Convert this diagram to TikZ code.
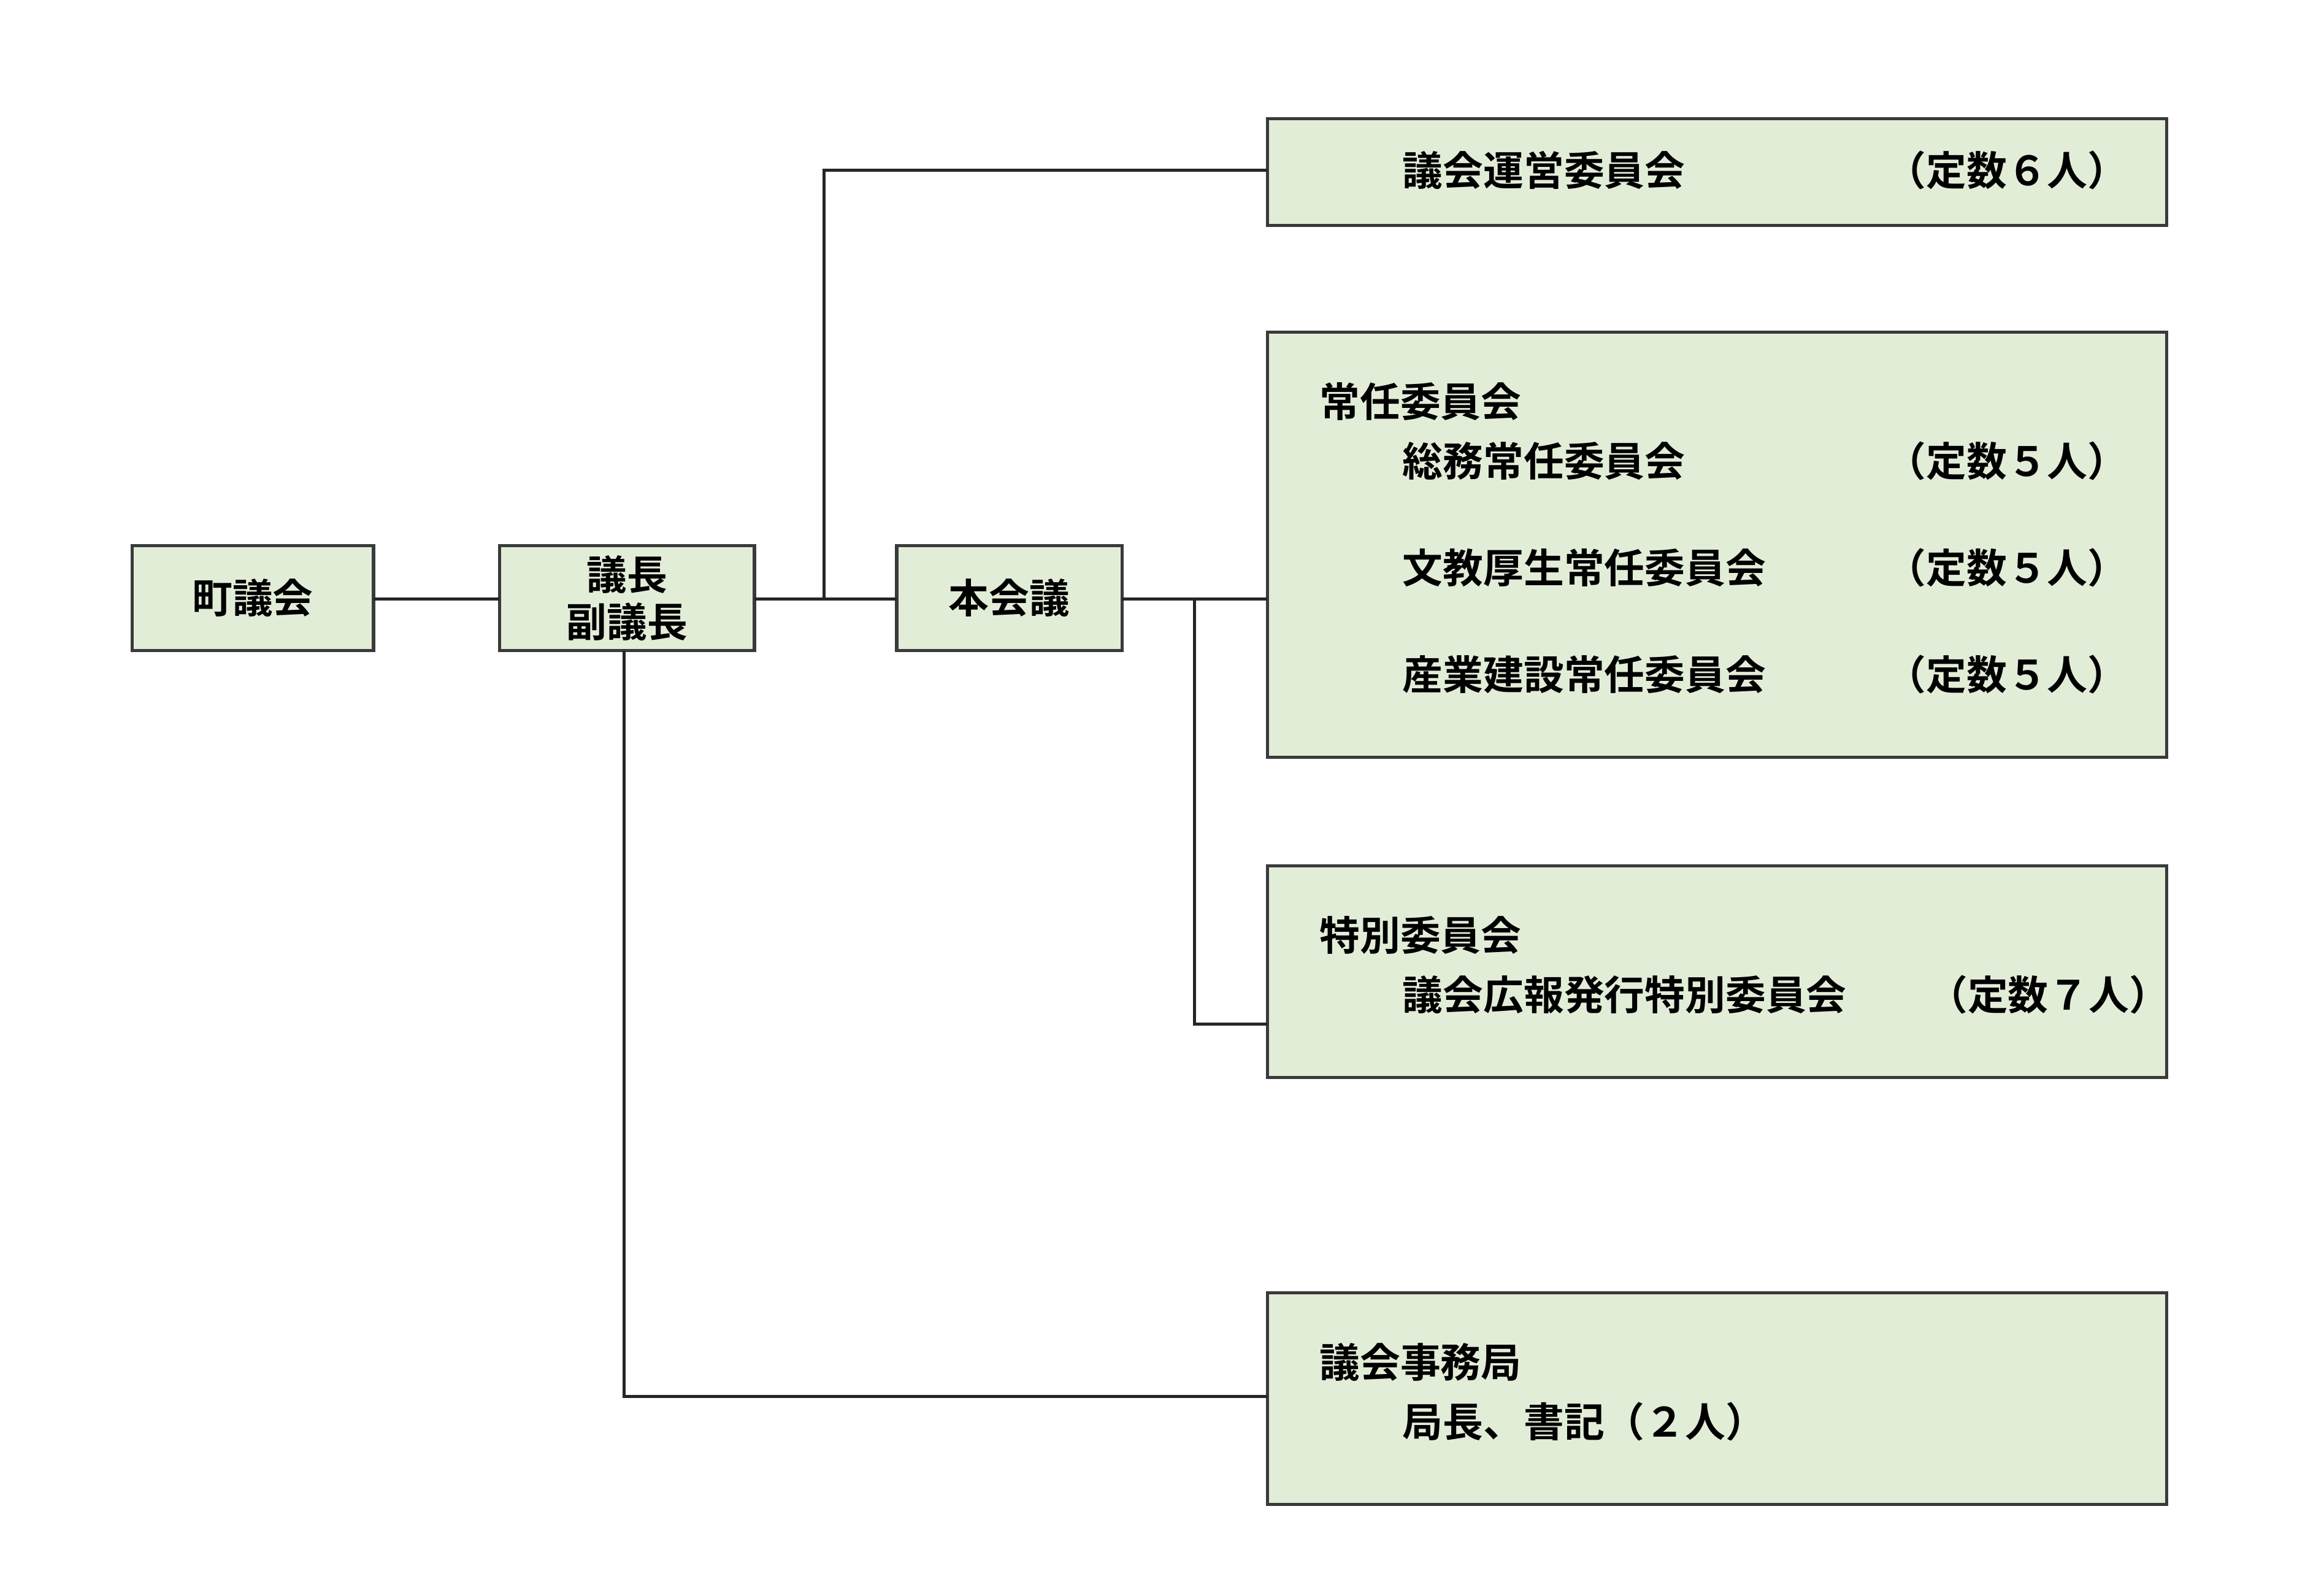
\documentclass[tikz,border=0pt]{standalone}
\usepackage{fontspec}
\newfontfamily\cjk{Noto Sans CJK JP}[BoldFont={* Bold}]
\definecolor{boxfill}{HTML}{E2EDD8}
\definecolor{boxline}{HTML}{3A3A3A}
\begin{document}
\begin{tikzpicture}[x=0.02cm,y=-0.02cm,
  box/.style={draw=boxline,line width=1.2pt,fill=boxfill},
  txt/.style={anchor=west,inner sep=0pt,font=\cjk\bfseries\fontsize{15.5}{20}\selectfont},
  ctxt/.style={align=center,inner sep=0pt,font=\cjk\bfseries\fontsize{15.5}{18}\selectfont},
  link/.style={line width=1.2pt,draw=black!85}]
\useasboundingbox (0,0) rectangle (1568,1072.6);
% left chain
\draw[box] (89,368) rectangle (252,439);
\node[ctxt] (town) at (170.5,403.5) {町議会};
\draw[box] (337,368) rectangle (509,439);
\node[ctxt] (chair) at (423,403.5) {議長\\副議長};
\draw[box] (605,368) rectangle (757,439);
\node[ctxt] (plenary) at (681,403.5) {本会議};
% right boxes
\draw[box] (855,80) rectangle (1462,152);
\draw[box] (855,224) rectangle (1462,511);
\draw[box] (855,584) rectangle (1462,727);
\draw[box] (855,872) rectangle (1462,1015);
\node[txt] (steer) at (946,115) {議会運営委員会};
\node[txt] at (1272,115) {（定数６人）};
\node[txt] (standing) at (890,271) {常任委員会};
\node[txt] at (946,311) {総務常任委員会};
\node[txt] at (1272,311) {（定数５人）};
\node[txt] at (946,383) {文教厚生常任委員会};
\node[txt] at (1272,383) {（定数５人）};
\node[txt] at (946,455) {産業建設常任委員会};
\node[txt] at (1272,455) {（定数５人）};
\node[txt] (special) at (890,631) {特別委員会};
\node[txt] at (946,671) {議会広報発行特別委員会};
\node[txt] at (1300,671) {（定数７人）};
\node[txt] (office) at (890,919) {議会事務局};
\node[txt] at (946,959) {局長、書記（２人）};
% connectors
\coordinate (steerIn) at (855,115);
\coordinate (standIn) at (855,404);
\coordinate (specIn) at (855,691);
\coordinate (offIn) at (855,942);
\coordinate (chairR) at (509,404);
\coordinate (chairB) at (421,439);
\coordinate (plenR) at (757,404);
\draw[link] (252,404) -- (337,404);
\draw[link] (chairR) -- (605,404);
\draw[link] (556,404) -- (556,115) -- (steerIn);
\draw[link] (plenR) -- (standIn);
\draw[link] (806,404) -- (806,691) -- (specIn);
\draw[link] (chairB) -- (421,942) -- (offIn);
\end{tikzpicture}
\end{document}
